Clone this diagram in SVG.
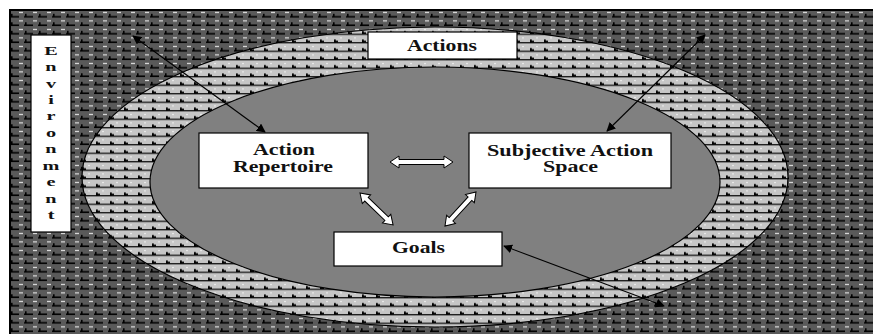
<svg xmlns="http://www.w3.org/2000/svg" width="873" height="334" viewBox="0 0 873 334">
<style>
.box{fill:#fff;stroke:#000;stroke-width:1.2}
.t{font-family:"Liberation Serif","Times New Roman",serif;font-weight:bold;font-size:16px;fill:#111;text-anchor:middle}
.e{font-family:"Liberation Serif","Times New Roman",serif;font-weight:bold;font-size:13.5px;fill:#111;text-anchor:middle}
.blk{fill:none;stroke:#000;stroke-width:1.1;marker-start:url(#ah);marker-end:url(#ah)}
.wa{fill:#fff;stroke:#000;stroke-width:1}
</style>
<defs>
<pattern id="dark" patternUnits="userSpaceOnUse" x="10" y="10" width="14" height="8.5">
<rect width="14" height="8.5" fill="#5a5a5a"/>
<rect x="0" y="6" width="9" height="1.6" fill="#000"/>
<rect x="1" y="3.8" width="1.6" height="3" fill="#000"/>
<rect x="9" y="1.8" width="4" height="1.2" fill="#e8e8e8"/>
</pattern>
<pattern id="light" patternUnits="userSpaceOnUse" x="10" y="10" width="14" height="8.5">
<rect width="14" height="8.5" fill="#c6c6c6"/>
<rect x="0" y="6.6" width="14" height="1.3" fill="#111"/>
<rect x="2" y="4" width="1.8" height="3" fill="#000"/>
<rect x="2" y="5.2" width="4" height="1.6" fill="#000"/>
<rect x="8" y="2" width="2" height="1" fill="#f2f2f2"/>
</pattern>
<marker id="ah" viewBox="0 0 10 10" refX="9" refY="5" markerWidth="9" markerHeight="9" markerUnits="userSpaceOnUse" orient="auto-start-reverse">
<path d="M0,0 L10,5 L0,10 Z" fill="#000"/>
</marker>
</defs>
<rect width="873" height="334" fill="#fff"/>
<g id="environment-area">
<rect x="10" y="10" width="880" height="340" fill="url(#dark)" stroke="#000" stroke-width="2"/>
</g>
<g id="outer-ring">
<ellipse cx="435" cy="177" rx="353" ry="150" fill="url(#light)" stroke="#000" stroke-width="1.2"/>
</g>
<g id="inner-space">
<ellipse cx="435" cy="182" rx="285" ry="115" fill="#808080" stroke="#000" stroke-width="1.2"/>
</g>
<g id="connectors">
<line class="blk" x1="133" y1="36" x2="265" y2="132"/>
<line class="blk" x1="705" y1="35" x2="607" y2="131"/>
<line class="blk" x1="504" y1="246" x2="664" y2="306"/>
<polygon class="wa" transform="translate(390,162)" points="0,0 9,-6 9,-2.5 54,-2.5 54,-6 63,0 54,6 54,2.5 9,2.5 9,6"/>
<polygon class="wa" transform="translate(360,193) rotate(44)" points="0,0 9,-6 9,-2.5 37,-2.5 37,-6 46,0 37,6 37,2.5 9,2.5 9,6"/>
<polygon class="wa" transform="translate(476,192) rotate(132.4)" points="0,0 9,-6 9,-2.5 37,-2.5 37,-6 46,0 37,6 37,2.5 9,2.5 9,6"/>
</g>
<g id="environment">
<rect class="box" x="31" y="35" width="40" height="197"/>
<g transform="translate(51,0) scale(1.5,1)">
<text class="e" x="0" y="55">E</text>
<text class="e" x="0" y="71.5">n</text>
<text class="e" x="0" y="88">v</text>
<text class="e" x="0" y="104">i</text>
<text class="e" x="0" y="120.5">r</text>
<text class="e" x="0" y="137">o</text>
<text class="e" x="0" y="153.5">n</text>
<text class="e" x="0" y="170">m</text>
<text class="e" x="0" y="186.5">e</text>
<text class="e" x="0" y="203">n</text>
<text class="e" x="0" y="219.5">t</text>
</g>
</g>
<g id="actions">
<rect class="box" x="368" y="32" width="149" height="27"/>
<text class="t" x="442" y="51" textLength="70" lengthAdjust="spacingAndGlyphs">Actions</text>
</g>
<g id="action-repertoire">
<rect class="box" x="199" y="133" width="169" height="55"/>
<text class="t" x="284" y="155" textLength="62" lengthAdjust="spacingAndGlyphs">Action</text>
<text class="t" x="283" y="172" textLength="100" lengthAdjust="spacingAndGlyphs">Repertoire</text>
</g>
<g id="subjective-action-space">
<rect class="box" x="469" y="133" width="202" height="55"/>
<text class="t" x="570" y="156" textLength="166" lengthAdjust="spacingAndGlyphs">Subjective Action</text>
<text class="t" x="570.5" y="172" textLength="55" lengthAdjust="spacingAndGlyphs">Space</text>
</g>
<g id="goals">
<rect class="box" x="334" y="232" width="168" height="34"/>
<text class="t" x="418.5" y="253" textLength="53" lengthAdjust="spacingAndGlyphs">Goals</text>
</g>
</svg>
